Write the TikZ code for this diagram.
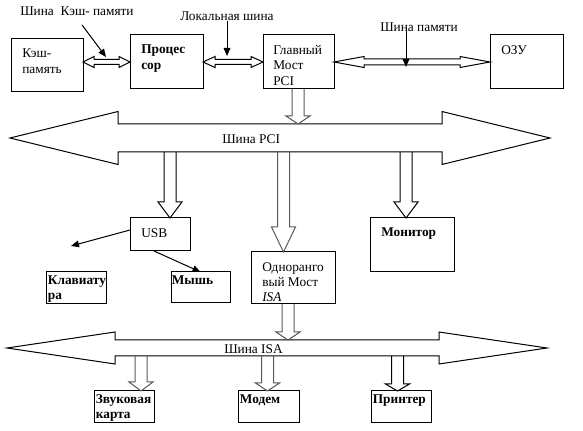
\documentclass[tikz,border=0pt]{standalone}
\usepackage{fontspec}
\setmainfont{Liberation Serif}
\usetikzlibrary{calc,arrows.meta}

\tikzstyle{blok} = [draw, line width=0.75pt, anchor=north west, inner sep=0pt, outer sep=0pt]
\tikzstyle{nadpis} = [anchor=north west, align=left, inner sep=0pt, xshift=8.25pt, yshift=-7.5pt]
\tikzstyle{nadpisb} = [anchor=north west, align=left, inner sep=0pt, xshift=1.2pt, yshift=-2.6pt, font=\fontsize{10}{11.5}\selectfont\bfseries]
\tikzstyle{zhirn} = [font=\fontsize{10}{11.5}\selectfont\bfseries]
\tikzstyle{tekst} = [anchor=west, inner sep=0pt]
\tikzstyle{shina} = [draw, line width=0.75pt, line join=miter]
\tikzstyle{shinas} = [shina, draw=black!65]
\tikzstyle{ukaz} = [line width=0.75pt, -{Triangle[length=6pt,width=5pt]}]

% vertical hollow arrow: style, x, top, tip, head length
\newcommand{\vstrelka}[5][shina]{%
  \draw[#1] ($(#2,0 |- #3)+(-6,0)$) -- ($(#2,0 |- #4)+(-6,-#5)$) -- ($(#2,0 |- #4)+(-12,-#5)$)
    -- (#2,0 |- #4) -- ($(#2,0 |- #4)+(12,-#5)$) -- ($(#2,0 |- #4)+(6,-#5)$) -- ($(#2,0 |- #3)+(6,0)$);}
% double hollow arrow: style, left tip, right tip, shaft half, head half, head length
\newcommand{\hstrelka}[6][shina]{%
  \draw[#1] (#2) -- ($(#2)+(#6,-#5)$) -- ($(#2)+(#6,-#4)$) -- ($(#3)+(-#6,-#4)$) -- ($(#3)+(-#6,-#5)$)
    -- (#3) -- ($(#3)+(-#6,#5)$) -- ($(#3)+(-#6,#4)$) -- ($(#2)+(#6,#4)$) -- ($(#2)+(#6,#5)$) -- cycle;}

\begin{document}
\begin{tikzpicture}[x=0.75pt, y=-0.75pt, font=\fontsize{10}{11.5}\selectfont]
\useasboundingbox (0,0) rectangle (583,431);

% top row
\node[blok, minimum width=54pt, minimum height=39.75pt,
      label={[nadpis]north west:{Кэш-\\память}}] (cache) at (11,39) {};
\node[blok, minimum width=54.75pt, minimum height=40.5pt,
      label={[nadpis, zhirn]north west:{Процес\\сор}}] (proc) at (130,35) {};
\node[blok, minimum width=53.25pt, minimum height=40.5pt,
      label={[nadpis, xshift=-0.75pt]north west:{Главный\\Мост\\PCI}}] (bridge) at (263,35) {};
\node[blok, minimum width=54.75pt, minimum height=40.5pt,
      label={[nadpis]north west:{ОЗУ}}] (ram) at (490,35) {};

% middle
\node[blok, minimum width=45pt, minimum height=24.75pt,
      label={[nadpis]north west:{USB}}] (usb) at (130,218) {};
\node[blok, minimum width=63pt, minimum height=40.5pt,
      label={[nadpis, zhirn]north west:{Монитор}}] (monitor) at (370,218) {};
\node[blok, minimum width=63pt, minimum height=39pt,
      label={[nadpis]north west:{Одноранго\\вый Мост\\\textit{ISA}}}] (isabr) at (251,252) {};
\node[blok, minimum width=45pt, minimum height=24pt,
      label={[nadpisb]north west:{Клавиату\\ра}}] (keyb) at (46,272) {};
\node[blok, minimum width=44.25pt, minimum height=23.25pt,
      label={[nadpisb, xshift=-0.75pt]north west:{Мышь}}] (mouse) at (171,272) {};

% bottom row
\node[blok, minimum width=45pt, minimum height=24pt,
      label={[nadpisb]north west:{Звуковая\\карта}}] (sound) at (94,391) {};
\node[blok, minimum width=45.75pt, minimum height=24pt,
      label={[nadpisb]north west:{Модем}}] (modem) at (238,391) {};
\node[blok, minimum width=45pt, minimum height=24pt,
      label={[nadpisb]north west:{Принтер}}] (printer) at (371,391) {};

% buses
\coordinate (pcil) at (10,138);
\coordinate (pcir) at (550,138);
\coordinate (pciverh) at (0,124);
\coordinate (pcinizh) at (0,152);
\coordinate (isal) at (7,348);
\coordinate (isar) at (547,348);
\coordinate (isaverh) at (0,340);
\coordinate (isanizh) at (0,356);

\hstrelka{pcil}{pcir}{14}{26.5}{108}
\hstrelka{isal}{isar}{8}{16}{108}
\node[tekst] (tpci) at (222,139) {Шина PCI};
\node[tekst] (tisa) at (224,349) {Шина ISA};

\hstrelka{cache.east |- proc.east}{proc.west}{2.5}{5.5}{11}
\hstrelka{proc.east}{bridge.west}{2.5}{5.5}{12}
\hstrelka{bridge.east}{ram.west}{3}{5.5}{30}

\vstrelka[shinas]{298}{bridge.south}{pciverh}{8}
\vstrelka{170}{pcinizh}{usb.north}{16}
\vstrelka{406}{pcinizh}{monitor.north}{16}
\vstrelka[shinas]{283.5}{pcinizh}{isabr.north}{25}
\vstrelka[shinas]{288}{isabr.south}{isaverh}{8}
\vstrelka[shinas]{141}{isanizh}{sound.north}{9}
\vstrelka[shinas]{267.5}{isanizh}{modem.north}{8}
\vstrelka{397.5}{isanizh}{printer.north}{7}

% labels of the buses at the top
\node[tekst] (tkesh) at (20,11) {Шина~~Кэш- памяти};
\node[tekst] (tlok) at (180,16) {Локальная шина};
\node[tekst] (tpam) at (380,27) {Шина памяти};
\coordinate (k1) at (82,25);
\coordinate (k2) at (106,57);
\coordinate (l2) at (227,56);
\coordinate (p1) at (406,28);
\coordinate (p2) at (406,67);
\draw[ukaz] (k1) -- (k2);
\draw[ukaz] (tlok.south -| l2) -- (l2);
\draw[ukaz] (p1) -- (p2);

% usb
\coordinate (kl) at (71,246);
\draw[ukaz] ($(usb.north west)+(0,12)$) -- (kl);
\draw[ukaz] ($(usb.south west)+(24,0)$) -- (mouse.north);
\end{tikzpicture}
\end{document}
